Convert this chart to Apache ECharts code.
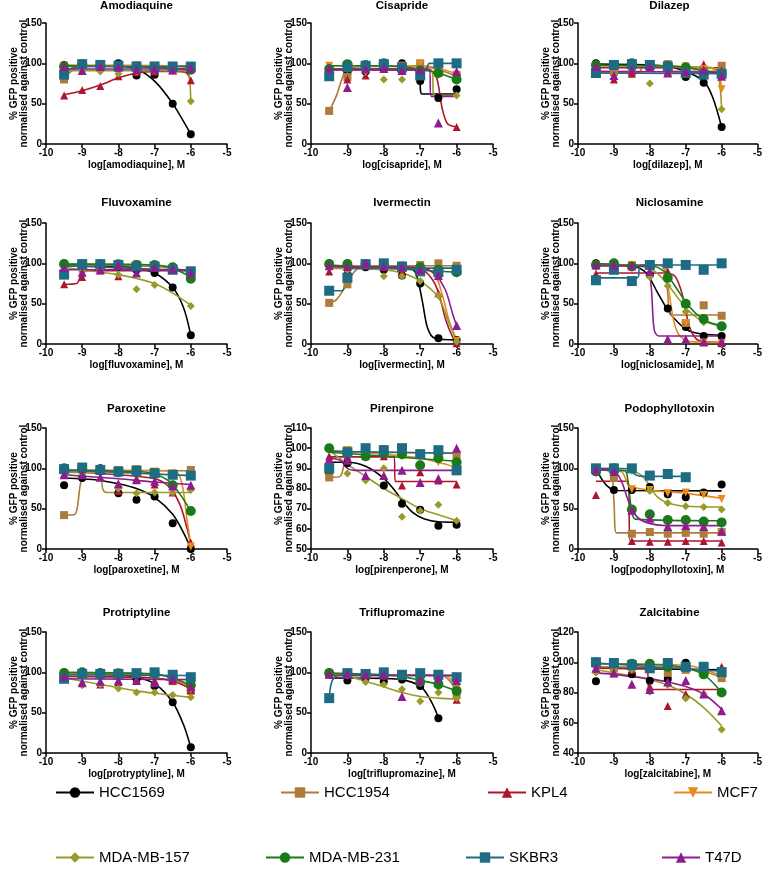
<!DOCTYPE html>
<html><head><meta charset="utf-8">
<script src="https://cdn.jsdelivr.net/npm/echarts@6/dist/echarts.min.js"></script>
<style>html,body{margin:0;padding:0;background:#fff}#chart{width:765px;height:890px}</style>
</head><body><div id="chart"></div>
<script>
// ---------- DATA ----------
const doses = [-9.5, -9, -8.5, -8, -7.5, -7, -6.5, -6];
const cellLines = ['HCC1569', 'HCC1954', 'KPL4', 'MCF7', 'MDA-MB-157', 'MDA-MB-231', 'SKBR3', 'T47D'];
const drugTitles = ['Amodiaquine', 'Cisapride', 'Dilazep', 'Fluvoxamine', 'Ivermectin', 'Niclosamine',
  'Paroxetine', 'Pirenpirone', 'Podophyllotoxin', 'Protriptyline', 'Triflupromazine', 'Zalcitabine'];
const xAxisNames = ['log[amodiaquine], M', 'log[cisapride], M', 'log[dilazep], M', 'log[fluvoxamine], M',
  'log[ivermectin], M', 'log[niclosamide], M', 'log[paroxetine], M', 'log[pirenperone], M',
  'log[podophyllotoxin], M', 'log[protryptyline], M', 'log[triflupromazine], M', 'log[zalcitabine], M'];
const yAxisName = '% GFP positive\nnormalised against control';
const xTickMin = -10, xTickMax = -5, xTickStep = 1;
const yMin = [0, 0, 0, 0, 0, 0, 0, 50, 0, 0, 0, 40];
const yMax = [150, 150, 150, 150, 150, 150, 150, 110, 150, 150, 150, 120];
const yStep = [50, 50, 50, 50, 50, 50, 50, 10, 50, 50, 50, 20];

// measured points (rows = cell lines in order above, columns = doses)
const amodiaquinePts = [
  [98, 97, 97, 100, 85, 86, 50, 12], [80, 98, 98, 98, 97, 97, 96, 96], [60, 67, 72, 84, 89, 90, 91, 79],
  [97, 98, 98, 97, 98, 97, 97, 93], [92, 91, 90, 87, 90, 91, 91, 53], [96, 99, 97, 96, 95, 94, 93, 92],
  [86, 99, 98, 97, 96, 96, 96, 96], [96, 91, 96, 95, 92, 93, 92, 94]];
const cisapridePts = [
  [85, 88, 90, 95, 100, 78, 57, 68], [41, 83, 97, 98, 97, 100, 88, 85], [92, 80, 85, 93, 92, 92, 88, 21],
  [97, 98, 97, 98, 97, 99, 95, 86], [93, 93, 90, 80, 80, 93, 86, 60], [93, 99, 98, 100, 93, 91, 88, 80],
  [84, 95, 97, 99, 95, 85, 100, 100], [94, 70, 93, 94, 91, 92, 26, 90]];
const dilazepPts = [
  [100, 97, 93, 98, 97, 83, 76, 21], [88, 89, 89, 97, 99, 90, 88, 97], [95, 80, 87, 97, 90, 92, 99, 91],
  [97, 98, 97, 98, 97, 96, 93, 68], [98, 96, 97, 75, 97, 95, 91, 43], [98, 98, 100, 98, 97, 95, 88, 87],
  [88, 98, 99, 98, 96, 88, 86, 87], [96, 85, 92, 95, 88, 90, 92, 84]];
const fluvoxaminePts = [
  [100, 97, 98, 96, 92, 88, 70, 11], [88, 100, 99, 99, 96, 95, 93, 91], [74, 83, 91, 84, 99, 96, 94, 85],
  [99, 99, 99, 98, 99, 97, 94, 87], [96, 90, 93, 86, 68, 73, 93, 47], [99, 99, 99, 99, 98, 98, 95, 81],
  [86, 99, 99, 98, 96, 96, 92, 90], [95, 89, 92, 98, 88, 95, 93, 88]];
const ivermectinPts = [
  [100, 100, 95, 92, 85, 75, 7, 5], [51, 74, 98, 98, 97, 98, 100, 97], [90, 93, 97, 95, 89, 90, 63, 1],
  [98, 95, 97, 97, 96, 92, 80, 4], [96, 92, 98, 84, 84, 78, 60, 3], [99, 99, 99, 98, 96, 95, 92, 89],
  [66, 82, 99, 100, 96, 90, 89, 92], [97, 96, 100, 96, 95, 92, 85, 23]];
const niclosamidePts = [
  [100, 97, 96, 86, 44, 21, 10, 10], [98, 99, 98, 98, 83, 26, 48, 35], [87, 98, 97, 88, 90, 50, 2, 1],
  [98, 98, 98, 97, 80, 26, 2, 1], [97, 98, 97, 83, 72, 40, 27, 22], [98, 100, 96, 98, 82, 50, 31, 22],
  [79, 92, 78, 98, 100, 98, 92, 100], [98, 98, 97, 90, 6, 6, 3, 3]];
const paroxetinePts = [
  [79, 88, 100, 69, 61, 65, 32, 0], [42, 100, 99, 98, 99, 95, 93, 98], [93, 100, 97, 72, 87, 80, 70, 8],
  [100, 99, 98, 97, 98, 96, 94, 3], [100, 92, 95, 75, 69, 70, 70, 73], [100, 99, 98, 95, 95, 93, 79, 47],
  [99, 101, 98, 96, 97, 94, 92, 91], [92, 92, 89, 81, 86, 84, 78, 79]];
const pirenperonePts = [
  [87.5, 92.5, 100, 81.5, 72.5, 69.5, 61.5, 62], [85.5, 99, 99, 99.5, 98, 97.5, 97, 96.5],
  [96, 96, 96, 96, 81.5, 88, 84, 82], [99, 99, 98, 97, 96, 95, 93, 91],
  [100, 87.5, 84, 90, 66, 69, 72, 64], [100, 97.5, 96, 97.5, 97, 91.5, 95, 93],
  [90, 98, 100, 99, 100, 97, 99, 89], [94.5, 94, 86.5, 86.5, 89, 83, 85, 100]];
const podophyllotoxinPts = [
  [100, 73, 73, 77, 68, 64, 70, 80], [97, 88, 19, 21, 19, 20, 19, 21], [67, 98, 10, 9, 9, 10, 10, 8],
  [98, 97, 74, 73, 69, 70, 67, 62], [96, 98, 97, 72, 57, 53, 52, 49], [96, 100, 49, 43, 36, 36, 34, 33],
  [100, 100, 100, 91, 93, 89, null, null], [98, 96, 48, 38, 28, 29, 28, 22]];
const protriptylinePts = [
  [100, 100, 100, 97, 92, 83, 63, 7], [99, 99, 98, 98, 98, 97, 89, 77], [97, 88, 85, 88, 92, 90, 90, 78],
  [98, 98, 98, 98, 97, 96, 92, 79], [94, 84, 85, 80, 75, 75, 72, 69], [99, 100, 99, 99, 98, 98, 93, 84],
  [92, 98, 98, 98, 99, 100, 97, 94], [95, 87, 89, 90, 90, 87, 92, 82]];
const triflupromazinePts = [
  [100, 90, 93, 89, 91, 83, 43, null], [98, 98, 97, 97, 96, 96, 95, 72], [97, 97, 96, 96, 96, 95, 94, 66],
  [99, 98, 97, 97, 96, 95, 94, 80], [97, 96, 88, 85, 79, 64, 75, 68], [99, 99, 98, 97, 96, 88, 85, 77],
  [68, 99, 98, 100, 97, 99, 97, 94], [98, 98, 97, 97, 70, 90, 93, 90]];
const zalcitabinePts = [
  [87.5, 98.8, 92, 87.8, 89, 99.7, 93, 91], [99, 96, 99, 98, 93, 95, 96, 89.5],
  [96, 92.5, 95, 84, 71, 79, 79, 97], [99, 99, 99, 98, 98, 97, 96, 91],
  [93, 94, 95, 80.5, 85, 76, 79, 55.5], [100, 99, 99, 99, 97, 97, 92, 80],
  [100, 99.5, 98, 96, 99.5, 97, 97, 93.5], [96, 93, 85.5, 82, 87, 88, 79, 68]];

// fitted curves as [log dose, %] pairs (same cell-line order)
const amodiaquineFit = [
  [[-9.5,97],[-8,96.5],[-7.5,93],[-7,78],[-6.5,50],[-6,12]],
  [[-9.5,82],[-9.25,92],[-9,96],[-6,97]],
  [[-9.5,61],[-9,66],[-8.5,73],[-8,82],[-7.5,88],[-7,90],[-6.5,90],[-6.15,89],[-6,79]],
  [[-9.5,98],[-6.5,97],[-6,94]],
  [[-9.5,91],[-6.15,91],[-6.05,86],[-6,53]],
  [[-9.5,97],[-7,95],[-6,92]],
  [[-9.5,87],[-9.3,94],[-9,96],[-6,96]],
  [[-9.5,93],[-6,93]]];
const cisaprideFit = [
  [[-9.5,92],[-7.05,92],[-6.95,62],[-6,62]],
  [[-9.5,41],[-9.3,60],[-9.1,86],[-8.9,94],[-8.5,96],[-7,96],[-6.5,92],[-6,84]],
  [[-9.5,92],[-6.75,91],[-6.55,82],[-6.4,45],[-6.25,25],[-6,21]],
  [[-9.5,97],[-7,97],[-6.5,94],[-6,87]],
  [[-9.5,93],[-6.7,92],[-6.6,60],[-6,60]],
  [[-9.5,97],[-8,97],[-7,93],[-6.5,88],[-6,80]],
  [[-9.5,93],[-6.85,93],[-6.75,100],[-6,100]],
  [[-9.5,93],[-6.75,93],[-6.7,59],[-6,59]]];
const dilazepFit = [
  [[-9.5,99],[-8,98],[-7.5,96],[-7,90],[-6.5,78],[-6.25,58],[-6,21]],
  [[-9.5,88],[-8.3,88],[-8.2,96],[-7.6,96],[-7.5,90],[-6,90]],
  [[-9.5,94.5],[-6,94.5]],
  [[-9.5,97],[-6.3,95],[-6.1,90],[-6,68]],
  [[-9.5,97],[-6.3,94],[-6.1,86],[-6,43]],
  [[-9.5,98],[-7.5,97],[-7,95],[-6.5,91],[-6,87]],
  [[-9.5,88],[-6,87]],
  [[-9.5,90],[-6,89]]];
const fluvoxamineFit = [
  [[-9.5,97],[-8,96],[-7.5,94],[-7,88],[-6.5,70],[-6.2,45],[-6,11]],
  [[-9.5,98],[-7,96],[-6,90]],
  [[-9.5,74],[-9.15,75],[-9,89],[-8.85,91],[-6,91]],
  [[-9.5,99],[-7,98],[-6.5,95],[-6,87]],
  [[-9.5,95],[-9,92],[-8,86],[-7,75],[-6.5,63],[-6,48]],
  [[-9.5,99],[-7,98],[-6.5,94],[-6,83]],
  [[-9.5,97],[-6,91]],
  [[-9.5,92],[-6,92]]];
const ivermectinFit = [
  [[-9.5,96],[-7.5,95],[-7.15,90],[-6.95,55],[-6.8,20],[-6.6,7],[-6,5]],
  [[-9.5,51],[-9.3,55],[-9,75],[-8.8,90],[-8.5,97],[-6,97]],
  [[-9.5,94],[-7,93],[-6.7,82],[-6.5,64],[-6.3,30],[-6.1,8],[-6,3]],
  [[-9.5,97],[-7,95],[-6.6,86],[-6.4,62],[-6.2,28],[-6,5]],
  [[-9.5,94],[-8,92],[-7.5,88],[-7,78],[-6.5,58],[-6.2,25],[-6,5]],
  [[-9.5,98],[-6,89]],
  [[-9.5,66],[-9.15,66],[-9,86],[-8.85,94],[-6,94]],
  [[-9.5,96],[-7,95],[-6.6,87],[-6.3,66],[-6.1,36],[-6,23]]];
const niclosamideFit = [
  [[-9.5,99],[-8.5,97],[-8.1,88],[-7.8,65],[-7.5,42],[-7.2,26],[-6.9,16],[-6.5,12],[-6,11]],
  [[-9.5,98],[-7.6,98],[-7.5,62],[-7.42,36],[-6,36]],
  [[-9.5,88],[-7.6,88],[-7.3,84],[-7.1,62],[-6.9,22],[-6.7,6],[-6.5,3],[-6,2]],
  [[-9.5,98],[-7.7,97],[-7.5,72],[-7.35,32],[-7.2,12],[-6.9,3],[-6,2]],
  [[-9.5,97],[-8.2,96],[-7.8,88],[-7.4,68],[-7,45],[-6.6,30],[-6.2,24],[-6,23]],
  [[-9.5,98],[-8,97],[-7.6,90],[-7.3,72],[-7,52],[-6.7,37],[-6.4,28],[-6,23]],
  [[-9.5,82],[-8.35,82],[-8.25,98],[-6,98]],
  [[-9.5,97],[-8.1,96],[-7.97,75],[-7.88,18],[-7.75,10],[-6,10]]];
const paroxetineFit = [
  [[-9.5,88],[-9,87],[-8.5,85],[-8,81],[-7.5,75],[-7,64],[-6.5,43],[-6.2,20],[-6,1]],
  [[-9.5,42],[-9.2,43],[-9.05,80],[-8.9,97],[-6,97]],
  [[-9.5,96],[-8,92],[-7,87],[-6.6,77],[-6.3,55],[-6.1,25],[-6,5]],
  [[-9.5,98],[-6.45,97],[-6.25,82],[-6.1,35],[-6,5]],
  [[-9.5,95],[-8.55,95],[-8.42,73],[-8.3,70],[-6,70]],
  [[-9.5,98],[-7.5,96],[-7,93],[-6.6,84],[-6.3,68],[-6,47]],
  [[-9.5,98],[-6,91]],
  [[-9.5,92],[-8,87],[-7,83],[-6,80]]];
const pirenperoneFit = [
  [[-9.5,93],[-9,93],[-8.5,91],[-8,85],[-7.7,79],[-7.5,74],[-7.2,68],[-6.9,65],[-6.5,63.5],[-6,63.3]],
  [[-9.5,85.5],[-9.2,86],[-9.05,95],[-8.9,98],[-6,97.5]],
  [[-9.5,95.7],[-7.72,95.7],[-7.68,83.5],[-6,83.5]],
  [[-9.5,99],[-8,97],[-7,95],[-6,90.5]],
  [[-9.5,99],[-9,92],[-8.5,86],[-8,80],[-7.5,75],[-7,70],[-6.5,67],[-6,64]],
  [[-9.5,98],[-6,93.5]],
  [[-9.5,98.5],[-6,97.5]],
  [[-9.5,95],[-9.2,94],[-9,90],[-8.8,89],[-6,89]]];
const podophyllotoxinFit = [
  [[-9.5,100],[-9.3,84],[-9.1,75],[-8.9,72.5],[-6,72]],
  [[-9.5,98],[-9.1,96],[-9.0,60],[-8.93,20],[-6,20]],
  [[-9.5,84],[-8.6,84],[-8.55,10],[-6,10]],
  [[-9.5,98],[-8.8,96],[-8.6,80],[-8.4,76],[-8,73],[-7,69],[-6,63]],
  [[-9.5,98],[-8.5,97],[-8.2,90],[-8,78],[-7.8,65],[-7.5,57],[-7,53],[-6,52]],
  [[-9.5,98],[-8.7,97],[-8.6,80],[-8.5,45],[-8.4,37],[-6,35]],
  [[-9.5,100],[-8.6,99.5],[-8.4,92],[-8.2,90],[-7,90]],
  [[-9.5,99],[-9,97],[-8.8,85],[-8.6,60],[-8.4,42],[-8.1,33],[-7.5,29],[-6,29]]];
const protriptylineFit = [
  [[-9.5,99],[-8,97],[-7.5,94],[-7,86],[-6.5,63],[-6.2,35],[-6,7]],
  [[-9.5,99],[-7,98],[-6.5,92],[-6,79]],
  [[-9.5,95],[-7,93],[-6.5,89],[-6,80]],
  [[-9.5,98],[-7,97],[-6.5,93],[-6,81]],
  [[-9.5,93],[-9,89],[-8.5,85],[-8,81],[-7.5,77],[-7,74],[-6.5,71.5],[-6,69]],
  [[-9.5,100],[-7,98],[-6.5,93],[-6,84]],
  [[-9.5,97],[-6,96]],
  [[-9.5,92],[-6,91]]];
const triflupromazineFit = [
  [[-9.5,93],[-8,92.5],[-7.5,91],[-7,83],[-6.8,72],[-6.6,55],[-6.5,43]],
  [[-9.5,97],[-6.4,96],[-6.2,90],[-6.05,80],[-6,73]],
  [[-9.5,97],[-6,96]],
  [[-9.5,97],[-6.3,96],[-6.1,88],[-6,79]],
  [[-9.5,98],[-9,95],[-8.5,89],[-8,82],[-7.5,75],[-7,70],[-6.5,68],[-6,67]],
  [[-9.5,99],[-8,97],[-7.5,95],[-7,90],[-6.5,85],[-6,77]],
  [[-9.5,68],[-9.45,85],[-9.35,94],[-9.2,96],[-6,96]],
  [[-9.5,96],[-6,96]]];
const zalcitabineFit = [
  [[-9.5,96],[-6,95]],
  [[-9.5,97],[-7,96],[-6.5,94],[-6,90]],
  [[-9.5,96],[-8.1,96],[-8.0,82],[-6,82]],
  [[-9.5,99],[-7,98],[-6,91]],
  [[-9.5,95],[-9,93],[-8.5,91],[-8,88.5],[-7.5,85],[-7,79],[-6.5,70],[-6,58]],
  [[-9.5,99],[-7.5,98],[-7,96],[-6.5,92],[-6,80]],
  [[-9.5,99.5],[-6,94]],
  [[-9.5,93],[-9,92],[-8.5,90.5],[-8,89],[-7.5,87],[-7,84],[-6.5,79],[-6,69]]];

const panelPts = [amodiaquinePts, cisapridePts, dilazepPts, fluvoxaminePts, ivermectinPts, niclosamidePts,
  paroxetinePts, pirenperonePts, podophyllotoxinPts, protriptylinePts, triflupromazinePts, zalcitabinePts];
const panelFit = [amodiaquineFit, cisaprideFit, dilazepFit, fluvoxamineFit, ivermectinFit, niclosamideFit,
  paroxetineFit, pirenperoneFit, podophyllotoxinFit, protriptylineFit, triflupromazineFit, zalcitabineFit];

// ---------- STYLE / LAYOUT ----------
const colors = ['#000000', '#AD7B3B', '#AE1530', '#E8891C', '#9A9A2A', '#1A7A1A', '#1E6C84', '#8E1C8E'];
const symbols = ['circle', 'rect', 'triangle', 'path://M0,0L10,0L5,9Z', 'diamond', 'circle', 'rect', 'triangle'];
const symSizes = [8, 8, 8, 8, 8, 10, 10, 9];
const colLeft = [46, 311, 578];
const gridW = [181, 182, 183];
const rowTop = [23, 223, 428, 632];
const gridH = 121;
const titleTop = [0, 197, 403, 607];
const legendPos = [[50, 780], [275, 780], [482, 780], [668, 780], [50, 845], [260, 845], [460, 845], [656, 845]];
const FONT = 'Liberation Sans, Arial, sans-serif';

const grids = [], xAxes = [], yAxes = [], titles = [], series = [];
for (let p = 0; p < 12; p++) {
  const c = p % 3, r = Math.floor(p / 3);
  grids.push({ left: colLeft[c], top: rowTop[r], width: gridW[c], height: gridH });
  titles.push({ text: drugTitles[p], left: colLeft[c] + gridW[c] / 2, top: titleTop[r], textAlign: 'center', padding: 0,
    textStyle: { fontFamily: FONT, fontWeight: 'bold', fontSize: 11.5, color: '#000' } });
  const axisCommon = {
    axisLine: { show: true, onZero: false, lineStyle: { color: '#000', width: 1.5 } },
    axisTick: { show: true, length: 4, lineStyle: { color: '#000', width: 1.5 } },
    axisLabel: { fontFamily: FONT, fontWeight: 'bold', fontSize: 10, color: '#000', margin: 4 },
    splitLine: { show: false },
    nameMoveOverlap: false,
    nameTextStyle: { fontFamily: FONT, fontWeight: 'bold', fontSize: 10, color: '#000', lineHeight: 10 }
  };
  xAxes.push(Object.assign({ gridIndex: p, type: 'value', min: xTickMin, max: xTickMax, interval: xTickStep,
    name: xAxisNames[p], nameLocation: 'middle', nameGap: 16 }, axisCommon));
  yAxes.push(Object.assign({ gridIndex: p, type: 'value', min: yMin[p], max: yMax[p], interval: yStep[p],
    name: yAxisName, nameLocation: 'middle', nameGap: 17 }, axisCommon));
  for (let s = 0; s < 8; s++) {
    series.push({ type: 'line', name: cellLines[s], xAxisIndex: p, yAxisIndex: p, data: panelFit[p][s],
      smooth: 0.3, showSymbol: false, symbol: symbols[s], symbolSize: symSizes[s] + 4,
      lineStyle: { color: colors[s], width: 1.6 }, itemStyle: { color: colors[s] }, z: 2, silent: true });
    series.push({ type: 'scatter', name: cellLines[s], xAxisIndex: p, yAxisIndex: p,
      data: doses.map((d, i) => [d, panelPts[p][s][i]]).filter(v => v[1] !== null),
      symbol: symbols[s], symbolSize: symSizes[s], itemStyle: { color: colors[s], opacity: 1 }, z: 3 });
  }
}
const legends = cellLines.map((name, i) => ({
  data: [name], left: legendPos[i][0], top: legendPos[i][1], itemWidth: 38, itemHeight: 13, itemGap: 0,
  selectedMode: false, textStyle: { fontFamily: FONT, fontSize: 15, color: '#000' }
}));

const chart = echarts.init(document.getElementById('chart'));
chart.setOption({ animation: false, backgroundColor: '#fff', title: titles, grid: grids, xAxis: xAxes, yAxis: yAxes,
  legend: legends, series: series });
</script></body></html>
